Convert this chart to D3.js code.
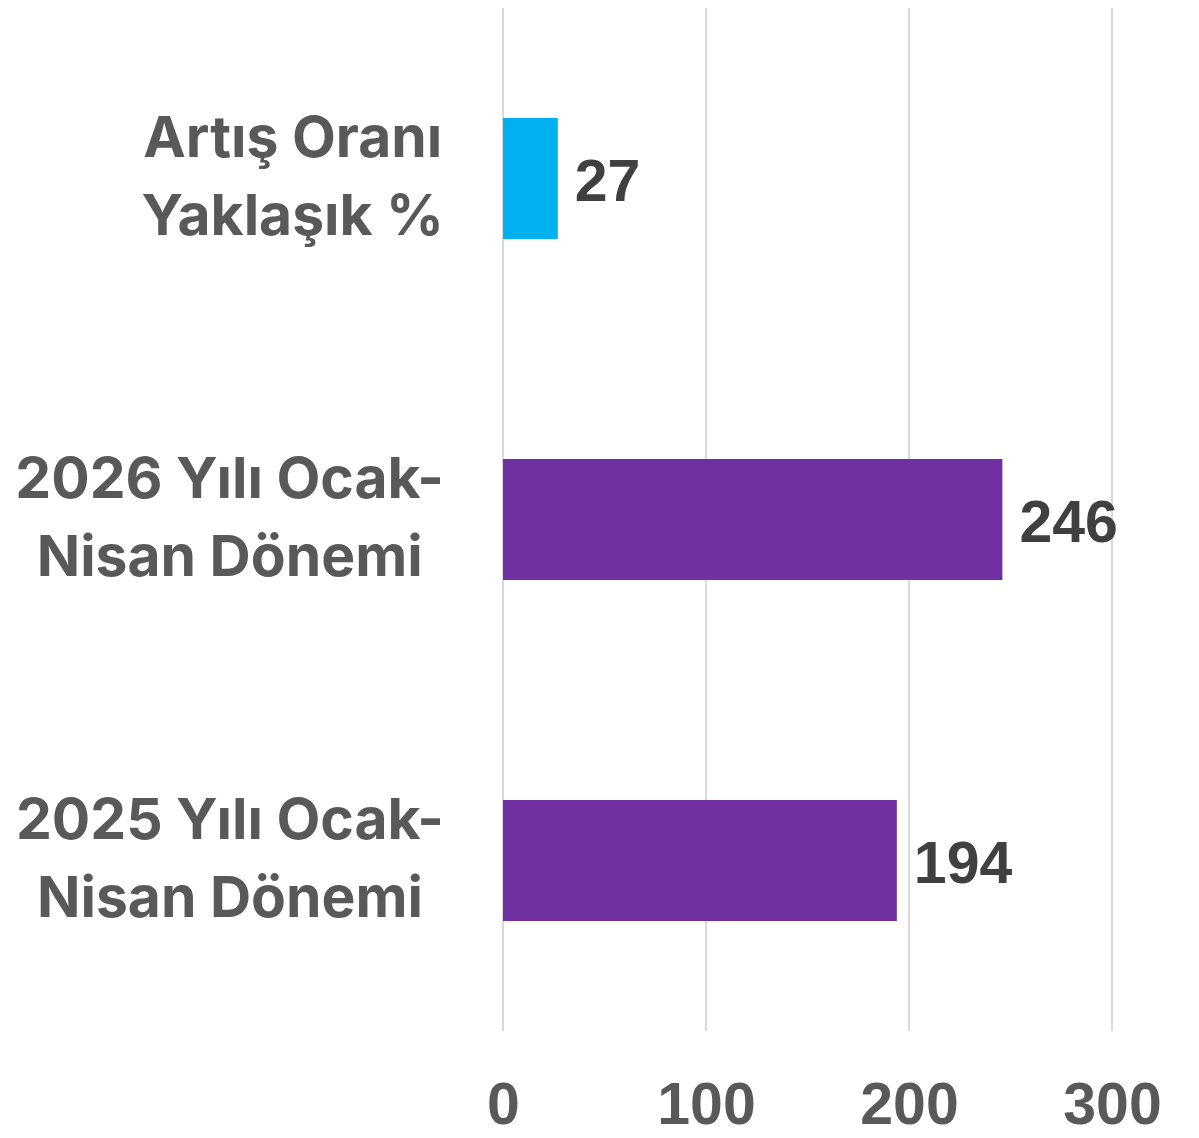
<!DOCTYPE html>
<html>
<head>
<meta charset="utf-8">
<script src="https://cdn.jsdelivr.net/npm/d3@7"></script>
<style>
  body { margin: 0; background: #fff; }
</style>
</head>
<body>
<script>
// data, top bar first
var categories = ["Artış Oranı Yaklaşık %", "2026 Yılı Ocak-Nisan Dönemi", "2025 Yılı Ocak-Nisan Dönemi"];
var labelLines = [["Artış Oranı", "Yaklaşık %"], ["2026 Yılı Ocak-", "Nisan Dönemi"], ["2025 Yılı Ocak-", "Nisan Dönemi"]];
var values = [27, 246, 194];
var barColors = ["#00B0F0", "#7030A0", "#7030A0"];
var tickValues = [0, 100, 200, 300];

var width = 1199, height = 1138;

var svg = d3.select("body").append("svg")
    .attr("width", width)
    .attr("height", height);

var x = d3.scaleLinear().domain([0, 300]).range([503, 1112]);
var y = d3.scaleBand().domain(categories).range([8, 1031])
    .paddingInner(0.645).paddingOuter(0.3225);

// gridlines
svg.append("g").selectAll("line")
    .data(tickValues)
    .join("line")
    .attr("x1", d => x(d)).attr("x2", d => x(d))
    .attr("y1", 8).attr("y2", 1031)
    .attr("stroke", "#d9d9d9")
    .attr("stroke-width", 2);

// x axis labels
var xAxis = d3.axisBottom(x).tickValues(tickValues).tickSize(0).tickPadding(0);
var gx = svg.append("g").attr("transform", "translate(0,1124)").call(xAxis);
gx.select(".domain").remove();
gx.selectAll("text")
    .attr("dy", "0")
    .attr("fill", "#595959")
    .style("font-family", "'Liberation Sans', Arial, sans-serif")
    .style("font-weight", "bold")
    .style("font-size", "59px");

// bars
svg.append("g").selectAll("rect")
    .data(categories)
    .join("rect")
    .attr("x", x(0))
    .attr("y", d => y(d))
    .attr("width", (d, i) => x(values[i]) - x(0))
    .attr("height", y.bandwidth())
    .attr("fill", (d, i) => barColors[i]);

// value labels
svg.append("g").selectAll("text")
    .data(categories)
    .join("text")
    .attr("x", (d, i) => x(values[i]) + 17)
    .attr("y", d => y(d) + y.bandwidth() / 2 + 22)
    .attr("fill", "#404040")
    .style("font-family", "'Liberation Sans', Arial, sans-serif")
    .style("font-weight", "bold")
    .style("font-size", "59px")
    .text((d, i) => values[i]);

// category labels: block right-aligned, lines centred inside the block
var labelRight = 444;
var cat = svg.append("g").selectAll("text")
    .data(categories)
    .join("text")
    .attr("text-anchor", "middle")
    .attr("fill", "#595959")
    .style("font-family", "Inter, 'Noto Sans', sans-serif")
    .style("font-weight", "bold")
    .style("font-size", "57px");

cat.selectAll("tspan")
    .data((d, i) => labelLines[i].map((t, k) => ({t: t, k: k, c: y(d) + y.bandwidth() / 2})))
    .join("tspan")
    .attr("y", d => d.c - 22 + d.k * 78)
    .text(d => d.t);

cat.each(function() {
    var spans = d3.select(this).selectAll("tspan");
    var maxW = 0;
    spans.each(function() { maxW = Math.max(maxW, this.getComputedTextLength()); });
    spans.attr("x", labelRight - maxW / 2);
});
</script>
</body>
</html>
